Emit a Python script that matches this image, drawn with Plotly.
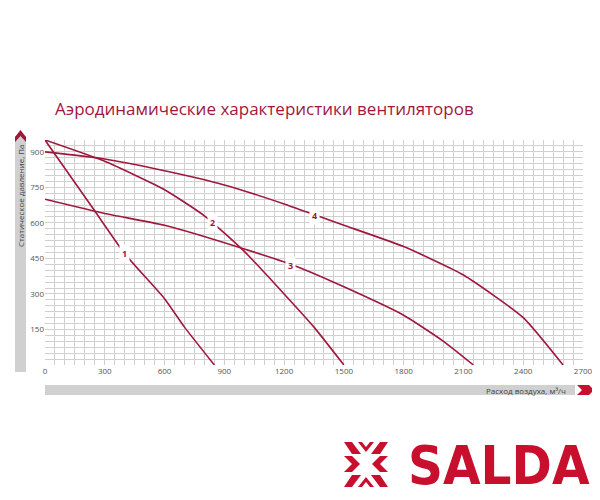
import plotly.graph_objects as go

c1_x = [0, 250, 400, 600, 700, 850]
c1_y = [950, 650, 470, 280, 160, 0]
c2_x = [0, 300, 600, 800, 1000, 1200, 1350, 1500]
c2_y = [950, 860, 740, 630, 480, 300, 160, 0]
c3_x = [0, 300, 600, 1000, 1250, 1500, 1800, 2000, 2150]
c3_y = [700, 640, 590, 490, 420, 330, 210, 100, 0]
c4_x = [0, 300, 600, 900, 1200, 1350, 1500, 1800, 2100, 2400, 2600]
c4_y = [900, 870, 820, 760, 680, 635, 590, 500, 380, 200, 0]
curves = [(c1_x, c1_y), (c2_x, c2_y), (c3_x, c3_y), (c4_x, c4_y)]
labels = ["1", "2", "3", "4"]
label_pos = [(400, 470), (840, 600), (1230, 420), (1350, 630)]
x_ticks = [0, 300, 600, 900, 1200, 1500, 1800, 2100, 2400, 2700]
y_ticks = [150, 300, 450, 600, 750, 900]

LINE = "#a0173c"
RED = "#c8102e"
OFF = 8  # default page body margin
W, H = 600 - OFF, 500 - OFF
fig = go.Figure()
for (xs, ys) in curves:
    fig.add_trace(go.Scatter(x=xs, y=ys, mode="lines", line=dict(color=LINE, width=1.6, shape="spline", smoothing=0.5), hoverinfo="skip"))
for t, (lx, ly) in zip(labels, label_pos):
    fig.add_annotation(x=lx, y=ly, text="<b>"+t+"</b>", showarrow=False, bgcolor="white",
                       font=dict(size=9, color=LINE, family="Open Sans"), borderpad=2)

L, R, T, B = 45, 583, 140, 365   # reference page pixels
def px(x): return (x - L) / (R - L)
def py(y): return (B - y) / (B - T)

shapes = []
shapes.append(dict(type="rect", xref="paper", yref="paper", x0=px(15), x1=px(26), y0=py(372), y1=py(136), fillcolor="#d0d0d0", line_width=0, layer="below"))
shapes.append(dict(type="path", xref="paper", yref="paper",
    path=f"M {px(15)} {py(137)} L {px(20.5)} {py(130)} L {px(26)} {py(137)} L {px(26)} {py(142)} L {px(20.5)} {py(136)} L {px(15)} {py(142)} Z",
    fillcolor=LINE, line_width=0))
shapes.append(dict(type="rect", xref="paper", yref="paper", x0=px(45), x1=px(575), y0=py(385), y1=py(395), fillcolor="#d0d0d0", line_width=0))
shapes.append(dict(type="path", xref="paper", yref="paper",
    path=f"M {px(577)} {py(385)} L {px(589)} {py(385)} L {px(594)} {py(390)} L {px(589)} {py(395)} L {px(577)} {py(395)} L {px(582)} {py(390)} Z",
    fillcolor=RED, line_width=0))
def poly(pts):
    return "M " + " L ".join(f"{px(a)} {py(b)}" for a, b in pts) + " Z"
icon = [
    [(344, 442), (352, 442), (361, 454), (352, 454)],
    [(388, 442), (380, 442), (371, 454), (380, 454)],
    [(344, 487), (352, 487), (361, 475), (352, 475)],
    [(388, 487), (380, 487), (371, 475), (380, 475)],
    [(344, 456), (352, 456), (360, 464), (352, 472), (344, 472), (352, 464)],
    [(388, 456), (380, 456), (372, 464), (380, 472), (388, 472), (380, 464)],
    [(358, 442), (366, 452), (374, 442), (370, 442), (366, 447), (362, 442)],
    [(358, 487), (366, 477), (374, 487), (370, 487), (366, 482), (362, 487)],
]
for p in icon:
    shapes.append(dict(type="path", xref="paper", yref="paper", path=poly(p), fillcolor=RED, line_width=0))
fig.update_layout(shapes=shapes)

fig.add_annotation(xref="paper", yref="paper", x=px(53), y=py(108), xanchor="left", yanchor="middle",
                   text="Аэродинамические характеристики вентиляторов", showarrow=False,
                   font=dict(size=17, color="#a0173c", family="Open Sans"))
fig.add_annotation(xref="paper", yref="paper", x=px(20.5), y=py(142), xanchor="center", yanchor="top",
                   text="Статическое давление, Па", textangle=-90, showarrow=False,
                   font=dict(size=8, color="#444", family="Open Sans"))
fig.add_annotation(xref="paper", yref="paper", x=px(568), y=py(390), xanchor="right", yanchor="middle",
                   text="Расход воздуха, м³/ч", showarrow=False,
                   font=dict(size=8, color="#444", family="Open Sans"))
fig.add_annotation(xref="paper", yref="paper", x=px(592), y=py(465), xanchor="right", yanchor="middle",
                   text="<b>SALDA</b>", showarrow=False,
                   font=dict(size=54, color=RED, family="Liberation Sans Narrow, DejaVu Sans Condensed"))

grid = "#d0d0d0"
fig.update_xaxes(range=[0, 2700], tickvals=x_ticks, showgrid=True, gridcolor=grid, gridwidth=0.6, automargin=False,
                 minor=dict(dtick=50, showgrid=True, gridcolor=grid, gridwidth=0.6),
                 tickfont=dict(size=8, color="#555", family="Open Sans"), zeroline=False, showline=False, ticks="")
fig.update_yaxes(range=[0, 950], tickvals=y_ticks, showgrid=True, gridcolor=grid, gridwidth=0.6, automargin=False,
                 minor=dict(dtick=25, showgrid=True, gridcolor=grid, gridwidth=0.6),
                 tickfont=dict(size=8, color="#555", family="Open Sans"), zeroline=False, showline=False, ticks="")
fig.update_layout(width=W, height=H, margin=dict(l=L - OFF, r=600 - R, t=T - OFF, b=500 - B),
                  paper_bgcolor="white", plot_bgcolor="white", showlegend=False)
fig.write_html("out.html")
